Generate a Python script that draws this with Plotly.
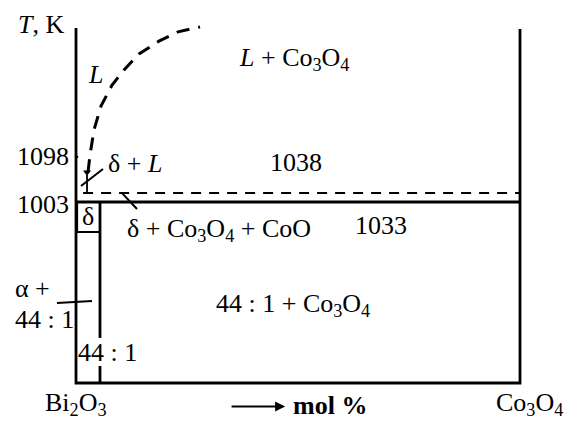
import plotly.graph_objects as go

# Phase diagram Bi2O3 - Co3O4 (schematic). x: mol % Co3O4, y: schematic temperature height (0..100)
box_x = [0, 0, 100, 100]
box_y = [100, 0, 0, 99.7]

solidus_y = 51.0          # 1003 K line
dashed_y = 53.5           # 1038 K line
dashed_x = [1.6, 100]
solidus_x = [0, 100]

delta_x = [0.25, 0.25, 5.4]
delta_y = [51.0, 42.5, 42.5]

phase441_x = 5.4
phase441_upper = [51.0, 12.7]
phase441_lower = [4.8, 0]

# liquidus curve (dashed)
liq_x = [2.70, 3.15, 4.05, 5.63, 8.11, 10.81, 14.19, 18.69, 22.97, 27.93]
liq_y = [59.4, 64.2, 71.3, 78.0, 83.9, 88.2, 92.7, 96.3, 98.9, 100.3]

arrow_x = [2.48, 2.48]
arrow_y = [58.6, 53.5]

leaders = [
    ([1.13, 6.08], [55.5, 60.3]),     # delta + L
    ([10.36, 13.74], [53.5, 49.0]),   # delta + Co3O4 + CoO
    ([-4.28, 3.6], [22.5, 23.1]),     # alpha + 44:1
    ([0, 0.5], [63.7, 63.7]),         # 1098 tick
]

labels = [
    ("<i>T</i>, K", -7.9, 100.85, "center"),
    ("<i>L</i>", 4.5, 86.8, "center"),
    ("<i>L</i> + Co<sub>3</sub>O<sub>4</sub>", 49.1, 91.3, "center"),
    ("1098", -1.4, 63.7, "right"),
    ("δ + <i>L</i>", 7.0, 61.7, "left"),
    ("1038", 43.4, 62.0, "left"),
    ("1003", -1.4, 50.4, "right"),
    ("δ", 2.7, 46.8, "center"),
    ("δ + Co<sub>3</sub>O<sub>4</sub> + CoO", 11.3, 43.0, "left"),
    ("1033", 62.5, 44.5, "left"),
    ("α +", -14.0, 26.6, "left"),
    ("44 : 1", -14.0, 18.0, "left"),
    ("44 : 1 + Co<sub>3</sub>O<sub>4</sub>", 31.4, 22.0, "left"),
    ("44 : 1", 0.2, 8.7, "left"),
    ("Bi<sub>2</sub>O<sub>3</sub>", -7.2, -6.0, "left"),
    ("<b>mol %</b>", 48.6, -6.2, "left"),
    ("Co<sub>3</sub>O<sub>4</sub>", 94.4, -6.0, "left"),
]

mol_arrow = (34.7, 47.1, -6.6)

BLACK = "#000000"
fig = go.Figure()

def line(xs, ys, width=2.5, dash="solid"):
    fig.add_trace(go.Scatter(x=xs, y=ys, mode="lines",
                             line=dict(color=BLACK, width=width, dash=dash),
                             hoverinfo="skip", showlegend=False))

line(box_x, box_y, 2.8)
line(solidus_x, [solidus_y, solidus_y], 3)
line(dashed_x, [dashed_y, dashed_y], 2, "10px,8px")
line(delta_x, delta_y, 2)
line([phase441_x, phase441_x], phase441_upper, 2.8)
line([phase441_x, phase441_x], phase441_lower, 2.8)
line(liq_x, liq_y, 3, "13px,9px")
line(arrow_x, arrow_y, 1.8)
fig.add_trace(go.Scatter(x=[arrow_x[0]], y=[arrow_y[0] + 0.8], mode="markers",
                         marker=dict(symbol="triangle-down", size=7, color=BLACK),
                         hoverinfo="skip", showlegend=False))
for xs, ys in leaders:
    line(xs, ys, 2)

FONT = dict(family="Liberation Serif", size=26, color=BLACK)
for text, x, y, anchor in labels:
    fig.add_annotation(x=x, y=y, text=text, showarrow=False, xanchor=anchor,
                       yanchor="middle", font=FONT, borderpad=0)

x0, x1, ya = mol_arrow
fig.add_annotation(x=x1, y=ya, ax=x0, ay=ya, axref="x", ayref="y", xref="x", yref="y",
                   text="", showarrow=True, arrowhead=2, arrowsize=1, arrowwidth=2,
                   arrowcolor=BLACK)

fig.update_layout(
    width=566, height=423, margin=dict(l=0, r=0, t=0, b=0),
    paper_bgcolor="white", plot_bgcolor="white",
    xaxis=dict(range=[-17.12, 110.36], visible=False, domain=[0, 1]),
    yaxis=dict(range=[-11.27, 107.89], visible=False, domain=[0, 1]),
)
fig.write_html("out.html")
